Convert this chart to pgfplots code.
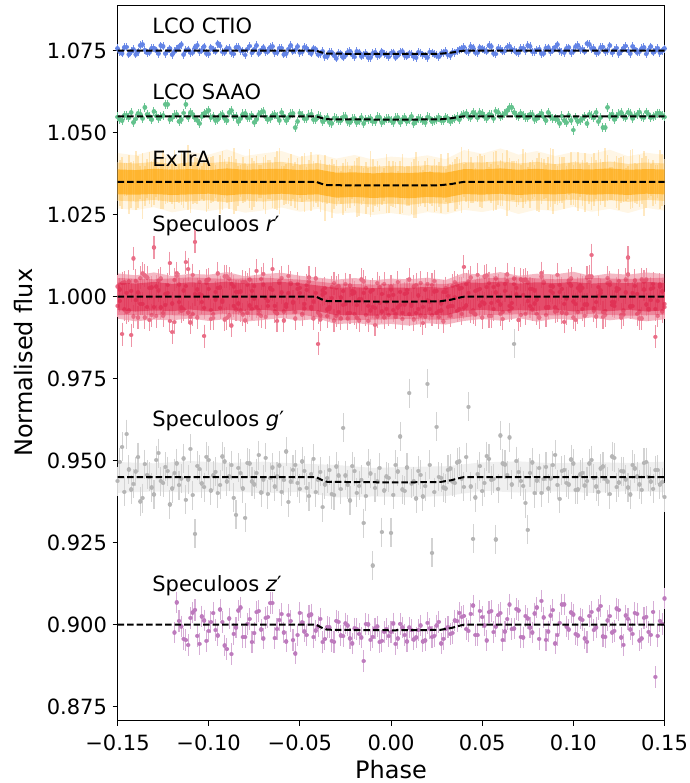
\documentclass[border=0pt]{standalone}
\usepackage{fontspec}
\setmainfont{DejaVu Sans}
\usepackage{pgfplots}
\pgfplotsset{compat=1.18}
\usepackage{pgfplotstable}
\definecolor{royalblue}{RGB}{65,105,225}
\definecolor{mseagreen}{RGB}{60,179,113}
\definecolor{orangeC}{RGB}{255,165,0}
\definecolor{crimsonC}{RGB}{220,20,60}
\definecolor{purpleC}{RGB}{128,0,128}
\definecolor{grayC}{RGB}{128,128,128}

\pgfdeclareplotmark{dotc}{\pgfpathmoveto{\pgfqpoint{0pt}{0pt}}\pgfpathlineto{\pgfqpoint{0.01pt}{0pt}}\pgfusepathqstroke}

\pgfplotstableread{
x ctio saao ex exe rp gp zp rp2
-0.1500 1.0757 1.0548 1.0352 0.006 1.0031 0.9438 nan 0.9972
-0.1475 1.0742 1.0536 1.0347 0.008 0.9886 0.9542 nan 1.0041
-0.1450 1.0761 1.0553 1.0358 0.005 1.0012 0.9581 nan 0.9953
-0.1425 1.0748 1.0561 1.0341 0.007 0.9883 0.9412 nan 1.0018
-0.1400 1.0739 1.0542 1.0355 0.009 1.0048 0.9467 nan 0.9989
-0.1375 1.0766 1.0557 1.0349 0.005 0.9978 0.9376 nan 1.0057
-0.1350 1.0752 1.0578 1.0338 0.006 1.0064 0.9489 nan 0.9937
-0.1325 1.0745 1.0549 1.0362 0.008 0.9929 0.9451 nan 1.0026
-0.1300 1.0758 1.0565 1.0351 0.007 1.0150 0.9397 nan 0.9968
-0.1275 1.0741 1.0544 1.0343 0.005 1.0019 0.9523 nan 1.0049
-0.1250 1.0763 1.0552 1.0356 0.009 0.9951 0.9432 nan 0.9942
-0.1225 1.0749 1.0587 1.0346 0.006 1.0036 0.9468 nan 1.0011
-0.1200 1.0738 1.0547 1.0353 0.007 0.9892 0.9415 nan 0.9979
-0.1175 1.0755 1.0556 1.0339 0.005 1.0072 0.9492 0.9068 1.0063
-0.1150 1.0768 1.0539 1.0361 0.008 0.9967 0.9446 0.8995 0.9956
-0.1125 1.0751 1.0587 1.0348 0.006 1.0105 0.9381 0.8953 1.0032
-0.1100 1.0744 1.0562 1.0344 0.009 0.9938 0.9536 0.9021 0.9921
-0.1075 1.0759 1.0545 1.0357 0.007 1.0167 0.9277 0.9045 1.0008
-0.1050 1.0747 1.0528 1.0342 0.005 1.0009 0.9474 0.8942 1.0045
-0.1025 1.0762 1.0558 1.0352 0.006 0.9880 0.9419 0.9013 0.9966
-0.1000 1.0740 1.0568 1.0347 0.008 1.0053 0.9502 0.8981 1.0024
-0.0975 1.0753 1.0549 1.0359 0.007 0.9935 0.9455 0.9035 0.9947
-0.0950 1.0771 1.0541 1.0340 0.005 1.0027 0.9401 0.8967 1.0071
-0.0925 1.0746 1.0556 1.0354 0.009 0.9984 0.9513 0.9008 0.9988
-0.0900 1.0756 1.0536 1.0345 0.006 1.0061 0.9437 0.8925 0.9935
-0.0875 1.0743 1.0567 1.0358 0.007 0.9912 0.9486 0.8910 1.0039
-0.0850 1.0760 1.0550 1.0341 0.008 1.0015 0.9335 0.8991 0.9961
-0.0825 1.0750 1.0543 1.0353 0.005 0.9958 0.9462 0.9052 1.0016
-0.0800 1.0737 1.0559 1.0348 0.006 1.0044 0.9326 0.8962 0.9928
-0.0775 1.0764 1.0547 1.0360 0.009 0.9973 0.9491 0.9017 1.0052
-0.0750 1.0754 1.0532 1.0343 0.007 1.0032 0.9428 0.8974 0.9994
-0.0725 1.0742 1.0555 1.0351 0.005 0.9947 0.9517 0.9041 0.9958
-0.0700 1.0759 1.0564 1.0346 0.008 1.0069 0.9443 0.8958 1.0037
-0.0675 1.0748 1.0540 1.0357 0.006 0.9986 0.9398 0.9023 0.9972
-0.0650 1.0763 1.0553 1.0339 0.007 1.0021 0.9479 0.9066 1.0084
-0.0625 1.0745 1.0548 1.0355 0.009 0.9926 0.9452 0.8987 0.9949
-0.0600 1.0758 1.0561 1.0349 0.005 1.0057 0.9405 0.9032 1.0013
-0.0575 1.0741 1.0537 1.0344 0.006 0.9969 0.9528 0.8949 0.9976
-0.0550 1.0766 1.0557 1.0356 0.008 1.0038 0.9436 0.9011 1.0042
-0.0525 1.0752 1.0515 1.0341 0.007 0.9953 0.9487 0.8912 0.9933
-0.0500 1.0744 1.0560 1.0352 0.005 1.0012 0.9414 0.9036 1.0027
-0.0475 1.0761 1.0542 1.0347 0.009 0.9978 0.9469 0.8979 0.9964
-0.0450 1.0749 1.0554 1.0358 0.006 1.0046 0.9392 0.9028 1.0058
-0.0425 1.0756 1.0539 1.0343 0.007 0.9934 0.9506 0.8962 0.9985
-0.0400 1.0739 1.0551 1.0353 0.008 0.9856 0.9441 0.8995 0.9952
-0.0375 1.0748 1.0533 1.0336 0.005 1.0007 0.9358 0.8947 1.0019
-0.0350 1.0733 1.0546 1.0342 0.006 0.9961 0.9447 0.8993 0.9941
-0.0325 1.0745 1.0529 1.0331 0.009 1.0029 0.9398 0.8951 0.9996
-0.0300 1.0727 1.0544 1.0346 0.007 0.9942 0.9482 0.9012 1.0028
-0.0275 1.0741 1.0536 1.0334 0.005 0.9997 0.9413 0.8967 0.9933
-0.0250 1.0736 1.0549 1.0341 0.008 1.0038 0.9455 0.9004 0.9977
-0.0225 1.0749 1.0531 1.0329 0.006 0.9951 0.9379 0.8958 1.0034
-0.0200 1.0731 1.0543 1.0345 0.007 1.0013 0.9468 0.8989 0.9948
-0.0175 1.0744 1.0538 1.0337 0.009 0.9928 0.9423 0.8972 0.9991
-0.0150 1.0738 1.0527 1.0342 0.005 1.0046 0.9310 0.8889 1.0012
-0.0125 1.0729 1.0541 1.0332 0.006 0.9972 0.9491 0.9001 0.9926
-0.0100 1.0742 1.0535 1.0339 0.008 1.0021 0.9180 0.8963 0.9969
-0.0075 1.0734 1.0548 1.0344 0.007 0.9939 0.9436 0.8994 1.0041
-0.0050 1.0747 1.0530 1.0330 0.005 1.0008 0.9282 0.8951 0.9955
-0.0025 1.0737 1.0542 1.0346 0.009 0.9963 0.9452 0.8986 0.9983
0.0000 1.0743 1.0537 1.0336 0.006 1.0031 0.9280 0.8977 1.0022
0.0025 1.0730 1.0545 1.0341 0.007 0.9947 0.9487 0.8942 0.9938
0.0050 1.0746 1.0532 1.0333 0.008 1.0015 0.9574 0.9003 0.9974
0.0075 1.0735 1.0547 1.0345 0.005 0.9976 0.9408 0.8968 1.0009
0.0100 1.0741 1.0539 1.0338 0.006 1.0052 0.9706 0.8991 0.9947
0.0125 1.0732 1.0529 1.0331 0.009 0.9931 0.9437 0.8955 1.0031
0.0150 1.0745 1.0544 1.0343 0.007 1.0004 0.9469 0.8984 0.9962
0.0175 1.0738 1.0536 1.0335 0.005 0.9968 0.9391 0.8949 0.9919
0.0200 1.0729 1.0548 1.0342 0.008 1.0039 0.9734 0.9006 0.9988
0.0225 1.0744 1.0533 1.0337 0.006 0.9945 0.9219 0.8962 1.0036
0.0250 1.0736 1.0541 1.0330 0.007 1.0017 0.9603 0.8998 0.9951
0.0275 1.0742 1.0538 1.0344 0.009 0.9958 0.9448 0.8943 0.9979
0.0300 1.0748 1.0547 1.0339 0.005 1.0026 0.9415 0.8987 1.0014
0.0325 1.0735 1.0534 1.0346 0.006 0.9972 0.9476 0.8971 0.9943
0.0350 1.0744 1.0543 1.0341 0.008 1.0044 0.9432 0.9013 0.9997
0.0375 1.0753 1.0539 1.0349 0.007 0.9963 0.9498 0.9036 1.0025
0.0400 1.0761 1.0556 1.0355 0.005 1.0091 0.9420 0.9027 0.9966
0.0425 1.0747 1.0549 1.0361 0.009 1.0012 0.9664 0.8981 1.0047
0.0450 1.0759 1.0562 1.0347 0.006 0.9952 0.9262 0.9058 0.9958
0.0475 1.0744 1.0545 1.0358 0.007 1.0067 0.9459 0.8968 1.0021
0.0500 1.0756 1.0558 1.0350 0.008 0.9983 0.9407 0.9023 0.9936
0.0525 1.0748 1.0543 1.0362 0.005 1.0029 0.9514 0.8952 1.0064
0.0550 1.0762 1.0554 1.0345 0.006 0.9941 0.9441 0.9041 0.9981
0.0575 1.0740 1.0566 1.0353 0.009 1.0056 0.9260 0.8994 1.0013
0.0600 1.0755 1.0548 1.0348 0.007 0.9976 0.9577 0.9035 0.9947
0.0625 1.0749 1.0558 1.0359 0.005 1.0018 0.9488 0.8979 1.0038
0.0650 1.0764 1.0578 1.0343 0.008 0.9957 0.9571 0.9061 0.9972
0.0675 1.0751 1.0561 1.0355 0.006 1.0038 0.9856 0.8988 1.0055
0.0700 1.0743 1.0549 1.0349 0.007 0.9929 0.9465 0.9043 0.9929
0.0725 1.0757 1.0552 1.0361 0.009 1.0049 0.9423 0.8961 1.0006
0.0750 1.0766 1.0545 1.0346 0.005 0.9986 0.9289 0.9019 1.0043
0.0775 1.0747 1.0556 1.0357 0.006 1.0023 0.9495 0.8976 0.9961
0.0800 1.0752 1.0543 1.0342 0.008 0.9948 0.9439 0.9052 0.9992
0.0825 1.0741 1.0559 1.0354 0.007 1.0061 0.9402 0.9073 1.0072
0.0850 1.0758 1.0537 1.0350 0.005 0.9967 0.9481 0.8954 0.9944
0.0875 1.0746 1.0549 1.0363 0.009 1.0032 0.9446 0.9028 1.0018
0.0900 1.0761 1.0542 1.0344 0.006 0.9955 0.9518 0.8943 0.9967
0.0925 1.0750 1.0529 1.0356 0.007 1.0014 0.9384 0.9006 1.0035
0.0950 1.0744 1.0538 1.0347 0.008 0.9978 0.9472 0.9062 0.9923
0.0975 1.0759 1.0552 1.0359 0.005 1.0043 0.9427 0.8985 1.0049
0.1000 1.0748 1.0508 1.0341 0.006 0.9936 0.9491 0.9031 0.9985
0.1025 1.0767 1.0533 1.0352 0.009 1.0026 0.9412 0.8967 0.9953
0.1050 1.0754 1.0544 1.0348 0.007 0.9962 0.9463 0.9014 1.0027
0.1075 1.0771 1.0528 1.0361 0.005 1.0058 0.9438 0.8948 0.9976
0.1100 1.0756 1.0551 1.0345 0.008 1.0127 0.9502 0.9039 1.0061
0.1125 1.0743 1.0562 1.0357 0.006 0.9983 0.9421 0.8992 0.9939
0.1150 1.0760 1.0547 1.0349 0.007 1.0019 0.9476 0.9057 1.0011
0.1175 1.0747 1.0515 1.0362 0.009 0.9944 0.9445 0.8963 0.9957
0.1200 1.0765 1.0549 1.0346 0.005 1.0036 0.9398 0.9026 1.0044
0.1225 1.0752 1.0541 1.0355 0.006 0.9971 0.9509 0.8981 0.9982
0.1250 1.0741 1.0557 1.0343 0.008 1.0048 0.9433 0.9045 1.0023
0.1275 1.0758 1.0550 1.0358 0.007 0.9958 0.9467 0.8939 0.9946
0.1300 1.0749 1.0562 1.0347 0.005 1.0119 0.9418 0.9018 1.0068
0.1325 1.0763 1.0544 1.0360 0.009 1.0011 0.9487 0.8972 0.9971
0.1350 1.0745 1.0555 1.0344 0.006 0.9947 0.9452 0.9033 1.0009
0.1375 1.0757 1.0548 1.0353 0.007 1.0053 0.9411 0.8958 0.9934
0.1400 1.0740 1.0563 1.0349 0.008 0.9976 0.9496 0.9024 1.0052
0.1425 1.0762 1.0546 1.0356 0.005 1.0024 0.9436 0.8969 0.9989
0.1450 1.0751 1.0552 1.0343 0.006 0.9878 0.9471 0.8841 0.9962
0.1475 1.0744 1.0559 1.0357 0.009 1.0037 0.9427 0.9012 1.0031
0.1500 1.0756 1.0548 1.0350 0.007 0.9968 0.9389 0.9080 0.9978
}\tabA

\pgfplotstableread{
x ctio saao rp gp zp ex exe rp2
-0.14875 1.0746 1.0541 0.9987 0.9496 nan 1.0346 0.007 1.0022
-0.14625 1.0760 1.0553 1.0043 0.9405 nan 1.0357 0.005 0.9961
-0.14375 1.0739 1.0545 0.9958 0.9473 nan 1.0341 0.009 1.0046
-0.14125 1.0754 1.0532 1.0117 0.9429 nan 1.0353 0.006 0.9939
-0.13875 1.0747 1.0558 0.9936 0.9511 nan 1.0349 0.008 1.0013
-0.13625 1.0769 1.0544 1.0071 0.9386 nan 1.0338 0.010 0.9978
-0.13375 1.0743 1.0556 0.9968 0.9457 nan 1.0361 0.006 1.0059
-0.13125 1.0758 1.0539 1.0028 0.9418 nan 1.0344 0.007 0.9944
-0.12875 1.0750 1.0551 0.9941 0.9502 nan 1.0355 0.005 1.0031
-0.12625 1.0765 1.0548 1.0055 0.9438 nan 1.0347 0.008 0.9967
-0.12375 1.0741 1.0587 0.9975 0.9481 nan 1.0352 0.007 1.0008
-0.12125 1.0756 1.0541 1.0102 0.9367 nan 1.0340 0.005 0.9926
-0.11875 1.0748 1.0554 0.9922 0.9462 0.8976 1.0358 0.009 1.0051
-0.11625 1.0762 1.0535 1.0037 0.9425 0.9012 1.0345 0.006 0.9983
-0.11375 1.0738 1.0560 0.9961 0.9507 0.8957 1.0350 0.008 1.0019
-0.11125 1.0753 1.0547 1.0084 0.9443 0.8938 1.0363 0.010 0.9952
-0.10875 1.0745 1.0555 0.9947 0.9395 0.9037 1.0342 0.006 1.0066
-0.10625 1.0767 1.0538 1.0022 0.9484 0.8966 1.0354 0.007 0.9937
-0.10375 1.0751 1.0550 0.9983 0.9431 0.9025 1.0348 0.005 1.0004
-0.10125 1.0742 1.0563 1.0049 0.9512 0.8951 1.0339 0.008 1.0041
-0.09875 1.0759 1.0546 0.9932 0.9409 0.9008 1.0356 0.007 0.9959
-0.09625 1.0748 1.0537 1.0014 0.9466 0.8983 1.0351 0.005 0.9991
-0.09375 1.0764 1.0552 0.9966 0.9426 0.9046 1.0343 0.009 1.0028
-0.09125 1.0745 1.0544 1.0062 0.9497 0.8936 1.0360 0.006 0.9931
-0.08875 1.0757 1.0561 0.9943 0.9452 0.9019 1.0346 0.008 1.0054
-0.08625 1.0740 1.0549 1.0031 0.9387 0.8972 1.0353 0.010 0.9972
-0.08375 1.0761 1.0534 0.9979 0.9478 0.9043 1.0337 0.006 1.0015
-0.08125 1.0749 1.0557 1.0045 0.9415 0.8962 1.0355 0.007 0.9946
-0.07875 1.0755 1.0545 0.9951 0.9493 0.9003 1.0349 0.005 1.0037
-0.07625 1.0743 1.0553 1.0018 0.9437 0.8947 1.0344 0.008 0.9963
-0.07375 1.0766 1.0540 0.9969 0.9462 0.9038 1.0359 0.007 1.0079
-0.07125 1.0752 1.0562 1.0054 0.9403 0.8985 1.0350 0.005 0.9941
-0.06875 1.0747 1.0548 0.9938 0.9509 0.9021 1.0341 0.009 0.9996
-0.06625 1.0760 1.0543 1.0027 0.9448 0.9066 1.0357 0.006 1.0025
-0.06375 1.0744 1.0556 0.9972 0.9421 0.8959 1.0346 0.008 0.9955
-0.06125 1.0758 1.0538 1.0041 0.9485 0.9014 1.0352 0.010 1.0047
-0.05875 1.0739 1.0551 0.9955 0.9441 0.8976 1.0339 0.006 0.9927
-0.05625 1.0755 1.0546 1.0063 0.9374 0.9029 1.0354 0.007 1.0012
-0.05375 1.0748 1.0559 0.9982 0.9472 0.8953 1.0348 0.005 0.9984
-0.05125 1.0762 1.0535 1.0024 0.9432 0.8968 1.0343 0.008 1.0039
-0.04875 1.0746 1.0552 0.9946 0.9498 0.9007 1.0358 0.007 0.9948
-0.04625 1.0757 1.0544 1.0035 0.9417 0.8968 1.0345 0.005 1.0021
-0.04375 1.0742 1.0557 0.9964 0.9459 0.9031 1.0351 0.009 0.9969
-0.04125 1.0753 1.0541 1.0012 0.9404 0.8982 1.0347 0.006 1.0056
-0.03875 1.0741 1.0548 0.9931 0.9466 0.9018 1.0338 0.008 0.9943
-0.03625 1.0732 1.0539 1.0026 0.9428 0.8956 1.0331 0.010 1.0011
-0.03375 1.0746 1.0531 0.9968 0.9471 0.8992 1.0345 0.006 0.9962
-0.03125 1.0735 1.0545 1.0041 0.9395 0.8948 1.0336 0.007 0.9927
-0.02875 1.0743 1.0537 0.9953 0.9455 0.9009 1.0342 0.005 1.0033
-0.02625 1.0730 1.0548 1.0017 0.9600 0.8965 1.0329 0.008 0.9975
-0.02375 1.0745 1.0533 0.9934 0.9426 0.8997 1.0340 0.007 0.9949
-0.02125 1.0737 1.0542 1.0008 0.9483 0.8943 1.0347 0.005 1.0018
-0.01875 1.0748 1.0530 0.9974 0.9402 0.8986 1.0334 0.009 0.9936
-0.01625 1.0733 1.0546 1.0052 0.9442 0.8961 1.0339 0.006 0.9992
-0.01375 1.0742 1.0539 0.9945 0.9392 0.9002 1.0332 0.008 1.0027
-0.01125 1.0728 1.0544 1.0016 0.9461 0.8954 1.0344 0.010 0.9958
-0.00875 1.0745 1.0533 0.9966 0.9417 0.8989 1.0337 0.006 0.9914
-0.00625 1.0736 1.0547 1.0029 0.9478 0.8947 1.0330 0.007 0.9981
-0.00375 1.0740 1.0538 0.9937 0.9409 0.8978 1.0341 0.005 1.0039
-0.00125 1.0731 1.0543 1.0003 0.9448 0.8965 1.0335 0.008 0.9945
0.00125 1.0744 1.0532 0.9959 0.9396 0.9004 1.0343 0.007 1.0006
0.00375 1.0736 1.0546 1.0044 0.9467 0.8958 1.0333 0.005 0.9967
0.00625 1.0747 1.0540 0.9951 0.9412 0.8991 1.0346 0.009 0.9932
0.00875 1.0733 1.0535 1.0012 0.9479 0.8949 1.0338 0.006 1.0021
0.01125 1.0740 1.0549 0.9972 0.9431 0.8983 1.0331 0.008 0.9978
0.01375 1.0728 1.0537 1.0036 0.9385 0.8961 1.0340 0.010 0.9951
0.01625 1.0743 1.0542 0.9943 0.9457 0.8997 1.0336 0.006 1.0042
0.01875 1.0735 1.0530 1.0021 0.9422 0.8952 1.0344 0.007 0.9939
0.02125 1.0746 1.0545 0.9962 0.9487 0.8988 1.0332 0.005 0.9985
0.02375 1.0739 1.0538 1.0047 0.9404 0.8966 1.0339 0.008 1.0016
0.02625 1.0731 1.0547 0.9938 0.9451 0.9009 1.0342 0.007 0.9957
0.02875 1.0744 1.0536 1.0015 0.9418 0.8957 1.0345 0.005 0.9924
0.03125 1.0737 1.0543 0.9969 0.9472 0.8993 1.0348 0.009 1.0003
0.03375 1.0745 1.0539 1.0033 0.9437 0.8975 1.0352 0.006 0.9971
0.03625 1.0749 1.0548 0.9957 0.9495 0.9011 1.0346 0.008 1.0035
0.03875 1.0756 1.0552 1.0026 0.9446 0.9024 1.0355 0.010 0.9948
0.04125 1.0748 1.0559 0.9973 0.9511 0.8986 1.0349 0.006 1.0038
0.04375 1.0763 1.0546 1.0058 0.9421 0.9033 1.0357 0.007 0.9954
0.04625 1.0745 1.0555 0.9946 0.9388 0.8968 1.0343 0.005 1.0017
0.04875 1.0759 1.0561 1.0024 0.9483 0.9042 1.0354 0.008 0.9973
0.05125 1.0751 1.0549 0.9979 0.9432 0.8997 1.0361 0.007 1.0062
0.05375 1.0766 1.0556 1.0041 0.9506 0.9038 1.0346 0.005 0.9941
0.05625 1.0742 1.0544 0.9962 0.9445 0.8977 1.0352 0.009 1.0029
0.05875 1.0757 1.0562 1.0035 0.9414 0.9029 1.0340 0.006 0.9986
0.06125 1.0748 1.0553 0.9953 0.9492 0.8953 1.0358 0.008 0.9932
0.06375 1.0761 1.0567 1.0068 0.9456 0.9017 1.0347 0.010 1.0048
0.06625 1.0753 1.0578 0.9981 0.9427 0.8986 1.0355 0.006 0.9965
0.06875 1.0745 1.0553 1.0027 0.9499 0.9048 1.0344 0.007 1.0007
0.07125 1.0758 1.0559 0.9944 0.9438 0.8962 1.0350 0.005 1.0053
0.07375 1.0749 1.0547 1.0052 0.9371 0.9026 1.0362 0.008 0.9948
0.07625 1.0763 1.0555 0.9971 0.9463 0.8991 1.0341 0.007 1.0024
0.07875 1.0746 1.0541 1.0019 0.9401 0.9034 1.0353 0.005 0.9979
0.08125 1.0755 1.0553 0.9936 0.9477 0.8957 1.0348 0.009 0.9937
0.08375 1.0742 1.0548 1.0045 0.9444 0.9022 1.0359 0.006 1.0041
0.08625 1.0759 1.0561 0.9967 0.9415 0.8979 1.0345 0.008 0.9969
0.08875 1.0751 1.0544 1.0031 0.9486 0.9044 1.0351 0.010 1.0012
0.09125 1.0768 1.0540 0.9958 0.9426 0.8968 1.0339 0.006 1.0067
0.09375 1.0746 1.0551 1.0024 0.9469 0.9062 1.0356 0.007 0.9952
0.09625 1.0757 1.0530 0.9949 0.9432 0.8994 1.0347 0.005 0.9995
0.09875 1.0744 1.0538 1.0056 0.9504 0.9037 1.0360 0.008 1.0034
0.10125 1.0762 1.0546 0.9977 0.9411 0.8971 1.0343 0.007 0.9929
0.10375 1.0753 1.0538 1.0034 0.9458 0.9019 1.0354 0.005 1.0019
0.10625 1.0748 1.0549 0.9942 0.9424 0.8958 1.0349 0.009 0.9976
0.10875 1.0770 1.0556 1.0062 0.9491 0.9027 1.0342 0.006 1.0045
0.11125 1.0757 1.0545 0.9965 0.9447 0.8983 1.0357 0.008 0.9958
0.11375 1.0745 1.0534 1.0029 0.9405 0.9046 1.0346 0.010 1.0003
0.11625 1.0761 1.0515 0.9953 0.9482 0.8964 1.0352 0.006 0.9938
0.11875 1.0750 1.0578 1.0041 0.9436 0.9013 1.0363 0.007 1.0057
0.12125 1.0743 1.0557 0.9974 0.9513 0.8976 1.0344 0.005 0.9984
0.12375 1.0758 1.0550 1.0018 0.9419 0.9049 1.0350 0.008 1.0026
0.12625 1.0749 1.0562 0.9936 0.9468 0.8961 1.0355 0.007 0.9945
0.12875 1.0764 1.0545 1.0052 0.9443 0.9028 1.0341 0.005 1.0013
0.13125 1.0741 1.0558 0.9968 0.9397 0.8985 1.0358 0.009 0.9971
0.13375 1.0755 1.0551 1.0033 0.9476 0.9036 1.0347 0.006 1.0049
0.13625 1.0747 1.0563 0.9955 0.9428 0.8952 1.0353 0.008 0.9934
0.13875 1.0760 1.0547 1.0046 0.9493 0.9021 1.0345 0.010 1.0022
0.14125 1.0752 1.0556 0.9961 0.9451 0.8978 1.0360 0.006 0.9963
0.14375 1.0745 1.0549 1.0027 0.9414 0.9039 1.0348 0.007 1.0039
0.14625 1.0758 1.0560 0.9942 0.9472 0.8966 1.0351 0.005 0.9987
0.14875 1.0750 1.0553 1.0016 0.9435 0.9003 1.0356 0.008 0.9955
}\tabB

\pgfplotsset{
  ebar/.style n args={3}{only marks, mark=|, mark size=#2, mark options={draw=#1, line width=#3, solid, line cap=butt}},
  edot/.style n args={2}{only marks, mark=dotc, mark options={draw=#1, line width=#2, solid, line cap=round}},
  exbar/.style={draw=none, mark=none, error bars/.cd, y dir=both, y explicit, error mark=none,
    error bar style={draw=orangeC!24, line width=1.6bp, solid}},
}

\begin{document}
\begin{tikzpicture}
\begin{axis}[
  set layers=standard,
  scale only axis, width=547bp, height=715.7bp,
  xmin=-0.15, xmax=0.15, ymin=0.87073, ymax=1.08893,
  xtick={-0.15,-0.10,-0.05,0,0.05,0.10,0.15},
  xticklabels={−0.15,−0.10,−0.05,0.00,0.05,0.10,0.15},
  ytick={0.875,0.900,0.925,0.950,0.975,1.000,1.025,1.050,1.075},
  yticklabels={0.875,0.900,0.925,0.950,0.975,1.000,1.025,1.050,1.075},
  tick pos=left, tick align=outside, major tick length=4.9bp,
  minor tick num=0,
  tick style={line width=0.8bp, black},
  axis line style={line width=0.8bp, black},
  ticklabel style={font=\fontsize{21bp}{25bp}\selectfont},
  xticklabel style={inner sep=0pt, yshift=-9bp},
  yticklabel style={inner sep=0pt, xshift=-5.5bp},
  label style={font=\fontsize{24bp}{29bp}\selectfont},
  xlabel={Phase}, ylabel={Normalised flux},
  xlabel style={at={(axis description cs:0.5,-0.0805)}, anchor=base, inner sep=0pt},
  ylabel style={at={(axis description cs:-0.1555,0.5)}, anchor=base, inner sep=0pt},
  clip=true,
]
\coordinate (bl) at (rel axis cs:0,0);
\coordinate (tr) at (rel axis cs:1,1);

% ---------- ExTrA band ----------
\addplot[exbar] table[x=x, y=ex, y error=exe] {\tabA};
\addplot[exbar] table[x=x, y=ex, y error=exe] {\tabB};
\addplot[fill=orangeC, fill opacity=0.10, draw=none] coordinates {
(-0.15,1.0438)(-0.14,1.0431)(-0.13,1.0446)(-0.12,1.0427)(-0.11,1.0441)(-0.10,1.0433)(-0.09,1.0449)(-0.08,1.0429)(-0.07,1.0437)(-0.06,1.0444)(-0.05,1.0426)(-0.04,1.0435)(-0.03,1.0421)(-0.02,1.0432)(-0.01,1.0418)(0.00,1.0427)(0.01,1.0423)(0.02,1.0431)(0.03,1.0419)(0.04,1.0447)(0.05,1.0436)(0.06,1.0452)(0.07,1.0433)(0.08,1.0444)(0.09,1.0429)(0.10,1.0441)(0.11,1.0435)(0.12,1.0448)(0.13,1.0428)(0.14,1.0439)(0.15,1.0432)
(0.15,1.0262)(0.14,1.0271)(0.13,1.0255)(0.12,1.0268)(0.11,1.0259)(0.10,1.0274)(0.09,1.0261)(0.08,1.0266)(0.07,1.0252)(0.06,1.0269)(0.05,1.0258)(0.04,1.0265)(0.03,1.0251)(0.02,1.0258)(0.01,1.0247)(0.00,1.0255)(-0.01,1.0249)(-0.02,1.0257)(-0.03,1.0253)(-0.04,1.0268)(-0.05,1.0259)(-0.06,1.0272)(-0.07,1.0263)(-0.08,1.0256)(-0.09,1.0270)(-0.10,1.0261)(-0.11,1.0267)(-0.12,1.0257)(-0.13,1.0273)(-0.14,1.0264)(-0.15,1.0269)
} -- cycle;
\addplot[fill=orangeC, fill opacity=0.28, draw=none] coordinates {
(-0.15,1.0409)(-0.14,1.0406)(-0.13,1.0411)(-0.12,1.0404)(-0.11,1.0410)(-0.10,1.0407)(-0.09,1.0412)(-0.08,1.0405)(-0.07,1.0408)(-0.06,1.0411)(-0.05,1.0403)(-0.04,1.0407)(-0.03,1.0398)(-0.02,1.0400)(-0.01,1.0396)(0.00,1.0399)(0.01,1.0397)(0.02,1.0401)(0.03,1.0398)(0.04,1.0410)(0.05,1.0409)(0.06,1.0413)(0.07,1.0406)(0.08,1.0411)(0.09,1.0404)(0.10,1.0410)(0.11,1.0407)(0.12,1.0412)(0.13,1.0405)(0.14,1.0409)(0.15,1.0406)
(0.15,1.0292)(0.14,1.0295)(0.13,1.0289)(0.12,1.0294)(0.11,1.0290)(0.10,1.0296)(0.09,1.0291)(0.08,1.0293)(0.07,1.0288)(0.06,1.0294)(0.05,1.0290)(0.04,1.0292)(0.03,1.0283)(0.02,1.0286)(0.01,1.0280)(0.00,1.0284)(-0.01,1.0281)(-0.02,1.0285)(-0.03,1.0282)(-0.04,1.0291)(-0.05,1.0289)(-0.06,1.0295)(-0.07,1.0290)(-0.08,1.0293)(-0.09,1.0288)(-0.10,1.0294)(-0.11,1.0291)(-0.12,1.0289)(-0.13,1.0295)(-0.14,1.0290)(-0.15,1.0293)
} -- cycle;
\addplot[fill=orangeC, fill opacity=0.62, draw=none] coordinates {
(-0.15,1.0388)(-0.14,1.0386)(-0.13,1.0390)(-0.12,1.0387)(-0.11,1.0389)(-0.10,1.0386)(-0.09,1.0391)(-0.08,1.0387)(-0.07,1.0389)(-0.06,1.0390)(-0.05,1.0386)(-0.04,1.0388)(-0.03,1.0378)(-0.02,1.0379)(-0.01,1.0376)(0.00,1.0378)(0.01,1.0377)(0.02,1.0380)(0.03,1.0378)(0.04,1.0389)(0.05,1.0388)(0.06,1.0391)(0.07,1.0387)(0.08,1.0390)(0.09,1.0386)(0.10,1.0389)(0.11,1.0388)(0.12,1.0391)(0.13,1.0387)(0.14,1.0389)(0.15,1.0388)
(0.15,1.0312)(0.14,1.0314)(0.13,1.0310)(0.12,1.0313)(0.11,1.0311)(0.10,1.0315)(0.09,1.0312)(0.08,1.0313)(0.07,1.0310)(0.06,1.0314)(0.05,1.0311)(0.04,1.0313)(0.03,1.0302)(0.02,1.0304)(0.01,1.0300)(0.00,1.0303)(-0.01,1.0301)(-0.02,1.0304)(-0.03,1.0302)(-0.04,1.0312)(-0.05,1.0310)(-0.06,1.0314)(-0.07,1.0311)(-0.08,1.0313)(-0.09,1.0309)(-0.10,1.0314)(-0.11,1.0312)(-0.12,1.0310)(-0.13,1.0313)(-0.14,1.0311)(-0.15,1.0312)
} -- cycle;

% ---------- Speculoos r' ----------
\addplot[fill=crimsonC, fill opacity=0.3, draw=none] coordinates {
(-0.15,1.0071)(-0.14,1.0065)(-0.13,1.0074)(-0.12,1.0063)(-0.11,1.0070)(-0.10,1.0067)(-0.09,1.0075)(-0.08,1.0062)(-0.07,1.0069)(-0.06,1.0073)(-0.05,1.0064)(-0.04,1.0058)(-0.03,1.0052)(-0.02,1.0057)(-0.01,1.0050)(0.00,1.0055)(0.01,1.0053)(0.02,1.0058)(0.03,1.0051)(0.04,1.0072)(0.05,1.0066)(0.06,1.0075)(0.07,1.0064)(0.08,1.0070)(0.09,1.0068)(0.10,1.0076)(0.11,1.0063)(0.12,1.0071)(0.13,1.0067)(0.14,1.0074)(0.15,1.0069)
(0.15,0.9931)(0.14,0.9925)(0.13,0.9934)(0.12,0.9928)(0.11,0.9937)(0.10,0.9929)(0.09,0.9933)(0.08,0.9924)(0.07,0.9935)(0.06,0.9927)(0.05,0.9932)(0.04,0.9926)(0.03,0.9915)(0.02,0.9919)(0.01,0.9912)(0.00,0.9917)(-0.01,0.9914)(-0.02,0.9920)(-0.03,0.9916)(-0.04,0.9933)(-0.05,0.9927)(-0.06,0.9935)(-0.07,0.9929)(-0.08,0.9924)(-0.09,0.9932)(-0.10,0.9926)(-0.11,0.9934)(-0.12,0.9928)(-0.13,0.9930)(-0.14,0.9925)(-0.15,0.9933)
} -- cycle;
\addplot[ebar={crimsonC!45}{11.5bp}{1.1bp}] table[x=x, y=rp] {\tabA};
\addplot[ebar={crimsonC!45}{11.5bp}{1.1bp}] table[x=x, y=rp] {\tabB};
\addplot[ebar={crimsonC!45}{11.5bp}{1.1bp}] table[x=x, y=rp2] {\tabA};
\addplot[ebar={crimsonC!45}{11.5bp}{1.1bp}] table[x=x, y=rp2] {\tabB};
\addplot[edot={crimsonC!62}{4.4bp}] table[x=x, y=rp] {\tabA};
\addplot[edot={crimsonC!62}{4.4bp}] table[x=x, y=rp] {\tabB};
\addplot[edot={crimsonC!62}{4.4bp}] table[x=x, y=rp2] {\tabA};
\addplot[edot={crimsonC!62}{4.4bp}] table[x=x, y=rp2] {\tabB};
% tint over the dense core (on top of the points)
\addplot[on layer=axis foreground, fill=crimsonC, fill opacity=0.3, draw=none] coordinates {
(-0.15,1.0057)(-0.13,1.0053)(-0.11,1.0059)(-0.09,1.0054)(-0.07,1.0058)(-0.05,1.0052)(-0.03,1.0040)(-0.01,1.0037)(0.01,1.0041)(0.03,1.0039)(0.05,1.0056)(0.07,1.0059)(0.09,1.0053)(0.11,1.0057)(0.13,1.0054)(0.15,1.0058)
(0.15,0.9945)(0.13,0.9942)(0.11,0.9947)(0.09,0.9943)(0.07,0.9946)(0.05,0.9944)(0.03,0.9929)(0.01,0.9932)(-0.01,0.9930)(-0.03,0.9928)(-0.05,0.9946)(-0.07,0.9943)(-0.09,0.9947)(-0.11,0.9942)(-0.13,0.9945)(-0.15,0.9944)
} -- cycle;
\addplot[on layer=axis foreground, fill=crimsonC, fill opacity=0.5, draw=none] coordinates {
(-0.15,1.0043)(-0.14,1.0040)(-0.13,1.0045)(-0.12,1.0039)(-0.11,1.0044)(-0.10,1.0041)(-0.09,1.0046)(-0.08,1.0040)(-0.07,1.0043)(-0.06,1.0045)(-0.05,1.0041)(-0.04,1.0034)(-0.03,1.0027)(-0.02,1.0029)(-0.01,1.0026)(0.00,1.0028)(0.01,1.0027)(0.02,1.0030)(0.03,1.0026)(0.04,1.0044)(0.05,1.0042)(0.06,1.0046)(0.07,1.0040)(0.08,1.0044)(0.09,1.0041)(0.10,1.0045)(0.11,1.0040)(0.12,1.0043)(0.13,1.0041)(0.14,1.0045)(0.15,1.0042)
(0.15,0.9958)(0.14,0.9955)(0.13,0.9960)(0.12,0.9956)(0.11,0.9959)(0.10,0.9955)(0.09,0.9961)(0.08,0.9957)(0.07,0.9959)(0.06,0.9955)(0.05,0.9960)(0.04,0.9957)(0.03,0.9943)(0.02,0.9945)(0.01,0.9941)(0.00,0.9944)(-0.01,0.9942)(-0.02,0.9945)(-0.03,0.9943)(-0.04,0.9956)(-0.05,0.9959)(-0.06,0.9955)(-0.07,0.9960)(-0.08,0.9957)(-0.09,0.9959)(-0.10,0.9955)(-0.11,0.9961)(-0.12,0.9956)(-0.13,0.9958)(-0.14,0.9955)(-0.15,0.9959)
} -- cycle;

% ---------- Speculoos g' ----------
\addplot[fill=grayC, fill opacity=0.12, draw=none] coordinates {
(-0.15,0.9496)(-0.13,0.9492)(-0.11,0.9499)(-0.09,0.9493)(-0.07,0.9497)(-0.05,0.9491)(-0.03,0.9487)(-0.01,0.9478)(0.01,0.9481)(0.03,0.9483)(0.05,0.9495)(0.07,0.9498)(0.09,0.9492)(0.11,0.9496)(0.13,0.9493)(0.15,0.9497)
(0.15,0.9404)(0.13,0.9407)(0.11,0.9402)(0.09,0.9406)(0.07,0.9403)(0.05,0.9408)(0.03,0.9392)(0.01,0.9389)(-0.01,0.9391)(-0.03,0.9388)(-0.05,0.9405)(-0.07,0.9401)(-0.09,0.9407)(-0.11,0.9403)(-0.13,0.9406)(-0.15,0.9402)
} -- cycle;
\addplot[ebar={grayC!35}{14.5bp}{1.1bp}] table[x=x, y=gp] {\tabA};
\addplot[ebar={grayC!35}{14.5bp}{1.1bp}] table[x=x, y=gp] {\tabB};
\addplot[edot={grayC!58}{4.4bp}] table[x=x, y=gp] {\tabA};
\addplot[edot={grayC!58}{4.4bp}] table[x=x, y=gp] {\tabB};

% ---------- Speculoos z' ----------
\addplot[ebar={purpleC!32}{10.8bp}{1.1bp}] table[x=x, y=zp] {\tabA};
\addplot[ebar={purpleC!32}{10.8bp}{1.1bp}] table[x=x, y=zp] {\tabB};
\addplot[edot={purpleC!52}{4.4bp}] table[x=x, y=zp] {\tabA};
\addplot[edot={purpleC!52}{4.4bp}] table[x=x, y=zp] {\tabB};

% ---------- LCO SAAO ----------
\addplot[ebar={mseagreen!75}{4.5bp}{1bp}] table[x=x, y=saao] {\tabA};
\addplot[ebar={mseagreen!75}{4.5bp}{1bp}] table[x=x, y=saao] {\tabB};
\addplot[edot={mseagreen!80}{4.8bp}] table[x=x, y=saao] {\tabA};
\addplot[edot={mseagreen!80}{4.8bp}] table[x=x, y=saao] {\tabB};

% ---------- LCO CTIO ----------
\addplot[ebar={royalblue!75}{4bp}{1bp}] table[x=x, y=ctio] {\tabA};
\addplot[ebar={royalblue!75}{4bp}{1bp}] table[x=x, y=ctio] {\tabB};
\addplot[edot={royalblue!82}{4.8bp}] table[x=x, y=ctio] {\tabA};
\addplot[edot={royalblue!82}{4.8bp}] table[x=x, y=ctio] {\tabB};

% ---------- transit models (on top of the points) ----------
\pgfplotsset{model/.style={on layer=axis foreground, black, line width=2bp, dash pattern=on 6.5bp off 3bp, mark=none}}
\addplot[model] coordinates {(-0.15,1.075)(-0.041,1.075)(-0.038,1.07445)(-0.035,1.0741)(-0.015,1.07403)(0,1.0740)(0.015,1.07402)(0.027,1.07407)(0.033,1.0744)(0.038,1.07485)(0.040,1.075)(0.15,1.075)};
\addplot[model] coordinates {(-0.15,1.055)(-0.041,1.055)(-0.038,1.05445)(-0.035,1.0541)(-0.015,1.05403)(0,1.0540)(0.015,1.05402)(0.027,1.05407)(0.033,1.0544)(0.038,1.05485)(0.040,1.055)(0.15,1.055)};
\addplot[model] coordinates {(-0.15,1.035)(-0.041,1.035)(-0.038,1.0344)(-0.035,1.0340)(-0.015,1.03393)(0,1.0339)(0.015,1.03392)(0.027,1.03398)(0.033,1.03434)(0.038,1.03484)(0.040,1.035)(0.15,1.035)};
\addplot[model] coordinates {(-0.15,1.0)(-0.041,1.0)(-0.038,0.99918)(-0.035,0.99865)(-0.015,0.99855)(0,0.9985)(0.015,0.99853)(0.027,0.9986)(0.033,0.9991)(0.038,0.99978)(0.040,1.0)(0.15,1.0)};
\addplot[model] coordinates {(-0.15,0.945)(-0.041,0.945)(-0.038,0.94412)(-0.035,0.94356)(-0.015,0.94345)(0,0.9434)(0.015,0.94343)(0.027,0.94351)(0.033,0.94404)(0.038,0.94476)(0.040,0.945)(0.15,0.945)};
\addplot[model] coordinates {(-0.15,0.9)(-0.041,0.9)(-0.038,0.89907)(-0.035,0.89847)(-0.015,0.89835)(0,0.8983)(0.015,0.89833)(0.027,0.89842)(0.033,0.89898)(0.038,0.89975)(0.040,0.9)(0.15,0.9)};

% ---------- labels ----------
\begin{scope}[every node/.style={anchor=base west, inner sep=0pt, font=\fontsize{21bp}{25bp}\selectfont}]
\node at (axis cs:-0.131,1.0801) {LCO CTIO};
\node at (axis cs:-0.131,1.0600) {LCO SAAO};
\node at (axis cs:-0.131,1.0398) {ExTrA};
\node at (axis cs:-0.131,1.0198) {Speculoos {\itshape r}′};
\node at (axis cs:-0.131,0.9604) {Speculoos {\itshape g}′};
\node at (axis cs:-0.131,0.9100) {Speculoos {\itshape z}′};
\end{scope}
\end{axis}
\pgfresetboundingbox
\path ([shift={(-117.5bp,-62.3bp)}]bl) rectangle ([shift={(25.5bp,5bp)}]tr);
\end{tikzpicture}
\end{document}
